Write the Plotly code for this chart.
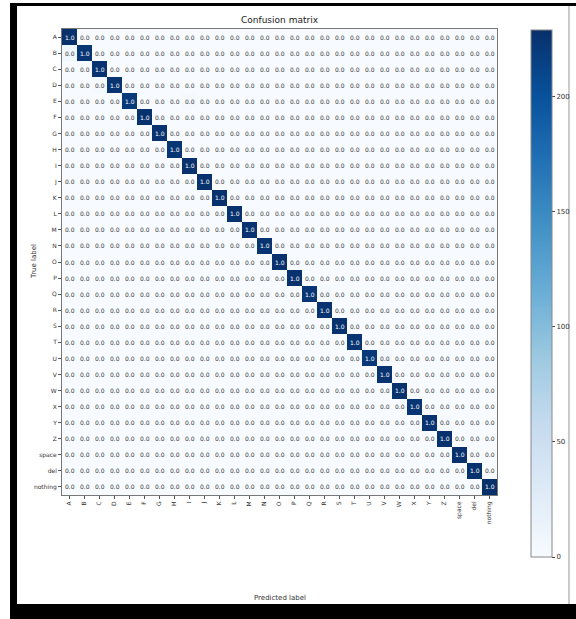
import plotly.graph_objects as go

labels = ["A","B","C","D","E","F","G","H","I","J","K","L","M","N","O","P","Q",
          "R","S","T","U","V","W","X","Y","Z","space","del","nothing"]

# diagonal counts (correct predictions) per class
diag_counts = [229, 224, 226, 225, 221, 227, 226, 224, 228, 227, 228, 227, 226, 225,
               228, 227, 224, 226, 227, 225, 222, 226, 227, 224, 226, 227, 228, 227, 229]

# a few small off-diagonal confusions: (true, predicted, count)
confusions = [("B", "A", 9), ("D", "C", 4), ("E", "I", 3), ("U", "V", 5), ("Q", "R", 3),
              ("Y", "Z", 3)]

n = len(labels)
z = [[0] * n for _ in range(n)]
for i in range(n):
    z[i][i] = diag_counts[i]
for t, p, c in confusions:
    z[labels.index(t)][labels.index(p)] = c

text = []
for i in range(n):
    s = sum(z[i])
    text.append(["%.1f" % (v / s) for v in z[i]])

blues = [[0.0, "#f7fbff"], [0.125, "#deebf7"], [0.25, "#c6dbef"], [0.375, "#9ecae1"],
         [0.5, "#6baed6"], [0.625, "#4292c6"], [0.75, "#2171b5"], [0.875, "#08519c"],
         [1.0, "#08306b"]]

zmax = max(max(r) for r in z)
thresh = zmax / 2.0

fig = go.Figure()
fig.add_trace(go.Heatmap(
    z=z, x=labels, y=labels, colorscale=blues, zmin=0, zmax=zmax,
    showscale=True,
    colorbar=dict(
        x=1.078, xanchor="left", xref="paper", thickness=21, xpad=0, ypad=0,
        lenmode="pixels", len=527, y=0.4324, yanchor="middle",
        outlinecolor="#888", outlinewidth=1,
        tickvals=[0, 50, 100, 150, 200], ticks="outside", ticklen=3,
        tickfont=dict(size=7, color="#333", family="DejaVu Sans"),
    ),
    hoverinfo="skip",
))

annotations = []
for i in range(n):
    for j in range(n):
        annotations.append(dict(
            x=labels[j], y=labels[i], text=text[i][j], showarrow=False,
            font=dict(size=6, family="DejaVu Sans",
                      color="white" if z[i][j] > thresh else "#333"),
        ))

# axis labels and title
annotations.append(dict(text="Confusion matrix", x=0.5, y=1.0, xref="paper", yref="paper",
                        yanchor="bottom", yshift=2, showarrow=False,
                        font=dict(size=9, color="#222", family="DejaVu Sans")))
annotations.append(dict(text="Predicted label", x=0.5, xref="paper", y=-0.222, yref="paper",
                        yanchor="middle", showarrow=False,
                        font=dict(size=7, color="#333", family="DejaVu Sans")))
annotations.append(dict(text="True label", x=-0.078, xref="paper", y=0.5, yref="paper",
                        textangle=-90, showarrow=False,
                        font=dict(size=7, color="#333", family="DejaVu Sans")))

shapes = [
    # picture frame
    dict(type="rect", xref="paper", yref="paper", x0=-0.1195, x1=-0.1034, y0=-0.266, y1=1.0558,
         fillcolor="black", line=dict(width=0), layer="above"),
    dict(type="rect", xref="paper", yref="paper", x0=-0.1195, x1=1.19, y0=1.0494, y1=1.0558,
         fillcolor="black", line=dict(width=0), layer="above"),
    dict(type="rect", xref="paper", yref="paper", x0=-0.1195, x1=1.19, y0=-0.266, y1=-0.2339,
         fillcolor="black", line=dict(width=0), layer="above"),
    dict(type="line", xref="paper", yref="paper", x0=1.1655, x1=1.1655, y0=-0.2339, y1=1.0494,
         line=dict(color="#999", width=1)),
]

fig.update_layout(
    width=576, height=619,
    margin=dict(l=62, r=79, t=29, b=124, autoexpand=False),
    paper_bgcolor="white", plot_bgcolor="white",
    annotations=annotations, shapes=shapes,
    showlegend=False,
)
fig.update_xaxes(
    type="category", tickangle=-90, ticks="outside", ticklen=3, tickcolor="#555",
    showline=True, linecolor="#777", linewidth=1, mirror=True,
    tickfont=dict(size=6, color="#333", family="DejaVu Sans"), showgrid=False, zeroline=False,
)
fig.update_yaxes(
    type="category", autorange="reversed", ticks="outside", ticklen=3, tickcolor="#555",
    showline=True, linecolor="#777", linewidth=1, mirror=True,
    tickfont=dict(size=6, color="#333", family="DejaVu Sans"), showgrid=False, zeroline=False,
)

fig.write_html("out.html", config={"displayModeBar": False},
               post_script="document.body.style.margin='0';document.body.style.overflow='hidden';")
